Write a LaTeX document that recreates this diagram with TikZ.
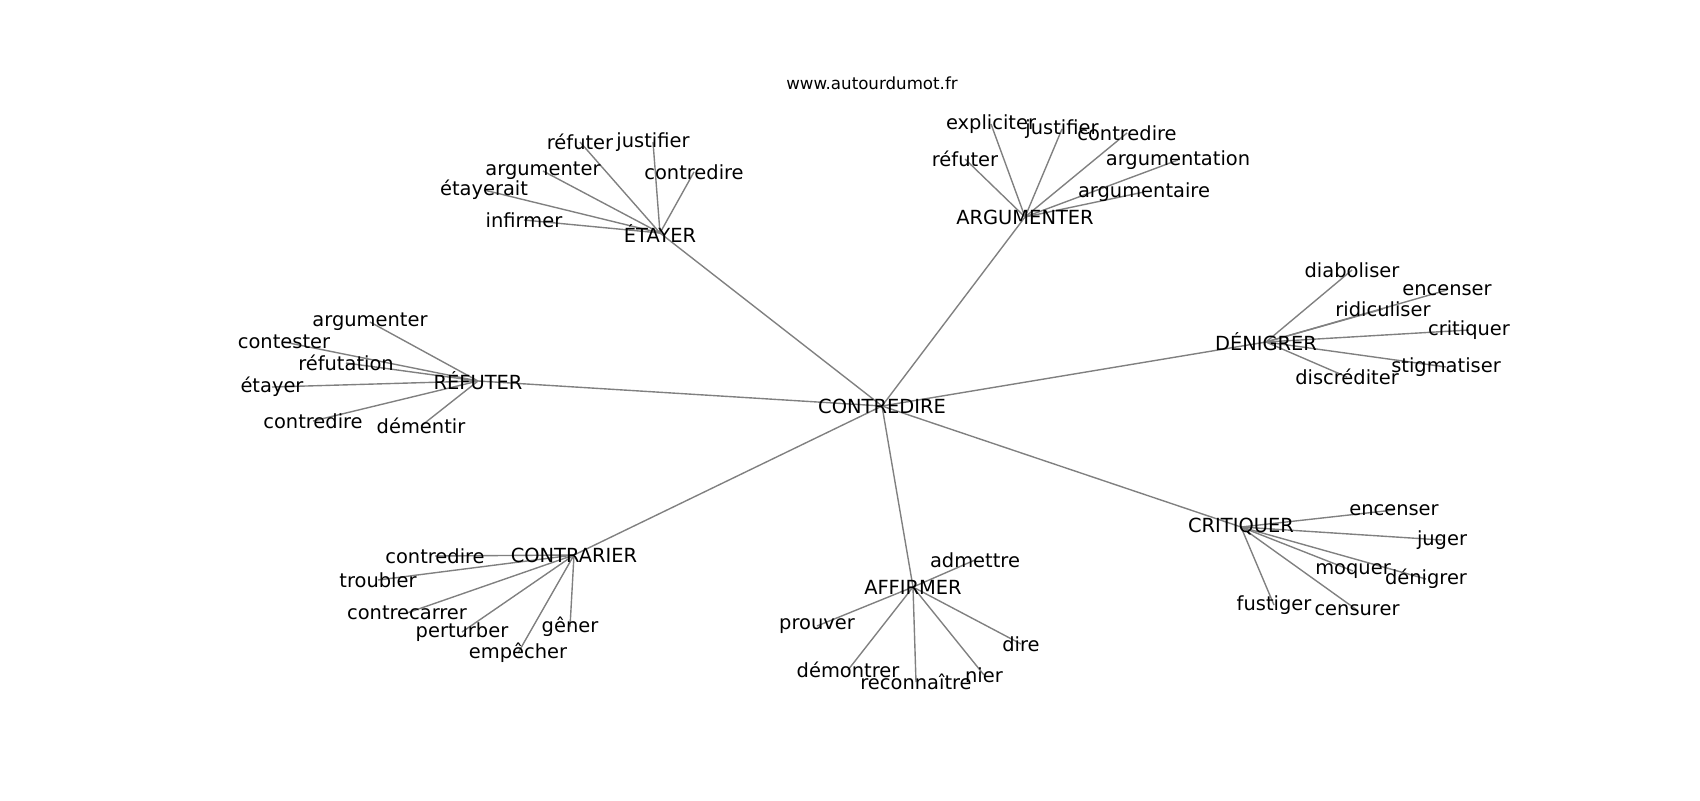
\documentclass[tikz,border=0pt]{standalone}
\usepackage{fontspec}
\setmainfont{DejaVu Sans}
\usepackage{tikz}
\pgfdeclarelayer{background}
\pgfsetlayers{background,main}
\tikzset{
  word/.style={inner sep=0pt, font=\fontsize{14}{16}\selectfont},
  edge/.style={draw=gray, line width=1pt}
}

\begin{document}
\begin{tikzpicture}[x=0.72pt, y=-0.72pt]

    \useasboundingbox (0,0) rectangle (1700,800);
    \draw(872,83) node[inner sep=0pt, font=\fontsize{12}{14}\selectfont] (site) {www.autourdumot.fr};

    % centre and hubs
    \draw(882,406) node[word] (contredire) {CONTREDIRE};
    \draw(660,233) node[word] (etayer) {ÉTAYER};
    \draw(1025,217) node[word] (argumenter) {ARGUMENTER};
    \draw(1266,342) node[word] (denigrer) {DÉNIGRER};
    \draw(478,381) node[word] (refuter) {RÉFUTER};
    \draw(574,555) node[word] (contrarier) {CONTRARIER};
    \draw(913,587) node[word] (affirmer) {AFFIRMER};
    \draw(1241,527) node[word] (critiquer) {CRITIQUER};

    % around ETAYER
    \draw(580,142) node[word] (et1) {réfuter};
    \draw(653,142) node[word] (et2) {justifier};
    \draw(543,171) node[word] (et3) {argumenter};
    \draw(694,172) node[word] (et4) {contredire};
    \draw(484,190) node[word] (et5) {étayerait};
    \draw(524,220) node[word] (et6) {infirmer};

    % around ARGUMENTER
    \draw(991,124) node[word] (ar1) {expliciter};
    \draw(1062,129) node[word] (ar2) {justifier};
    \draw(1127,133) node[word] (ar3) {contredire};
    \draw(965,159) node[word] (ar4) {réfuter};
    \draw(1178,160) node[word] (ar5) {argumentation};
    \draw(1144,192) node[word] (ar6) {argumentaire};

    % around DENIGRER
    \draw(1352,270) node[word] (de1) {diaboliser};
    \draw(1447,290) node[word] (de2) {encenser};
    \draw(1383,309) node[word] (de3) {ridiculiser};
    \draw(1469,330) node[word] (de4) {critiquer};
    \draw(1446,367) node[word] (de5) {stigmatiser};
    \draw(1347,377) node[word] (de6) {discréditer};

    % around REFUTER
    \draw(370,322) node[word] (re1) {argumenter};
    \draw(284,342) node[word] (re2) {contester};
    \draw(346,363) node[word] (re3) {réfutation};
    \draw(272,387) node[word] (re4) {étayer};
    \draw(313,421) node[word] (re5) {contredire};
    \draw(421,426) node[word] (re6) {démentir};

    % around CONTRARIER
    \draw(435,556) node[word] (co1) {contredire};
    \draw(378,580) node[word] (co2) {troubler};
    \draw(407,613) node[word] (co3) {contrecarrer};
    \draw(462,632) node[word] (co4) {perturber};
    \draw(518,653) node[word] (co5) {empêcher};
    \draw(570,627) node[word] (co6) {gêner};

    % around AFFIRMER
    \draw(975,560) node[word] (af1) {admettre};
    \draw(817,626) node[word] (af2) {prouver};
    \draw(848,670) node[word] (af3) {démontrer};
    \draw(916,682) node[word] (af4) {reconnaître};
    \draw(984,675) node[word] (af5) {nier};
    \draw(1021,644) node[word] (af6) {dire};

    % around CRITIQUER
    \draw(1394,510) node[word] (cr1) {encenser};
    \draw(1442,540) node[word] (cr2) {juger};
    \draw(1353,571) node[word] (cr3) {moquer};
    \draw(1426,579) node[word] (cr4) {dénigrer};
    \draw(1274,605) node[word] (cr5) {fustiger};
    \draw(1357,610) node[word] (cr6) {censurer};

    \begin{pgfonlayer}{background}
    \foreach \h in {etayer, argumenter, denigrer, refuter, contrarier, affirmer, critiquer}
        \draw[edge] (contredire.center) -- (\h.center);
    \foreach \i in {1,...,6} {
        \draw[edge] (etayer.center) -- (et\i.center);
        \draw[edge] (argumenter.center) -- (ar\i.center);
        \draw[edge] (denigrer.center) -- (de\i.center);
        \draw[edge] (refuter.center) -- (re\i.center);
        \draw[edge] (contrarier.center) -- (co\i.center);
        \draw[edge] (affirmer.center) -- (af\i.center);
        \draw[edge] (critiquer.center) -- (cr\i.center);
    }
    \end{pgfonlayer}

    \end{tikzpicture}
\end{document}
